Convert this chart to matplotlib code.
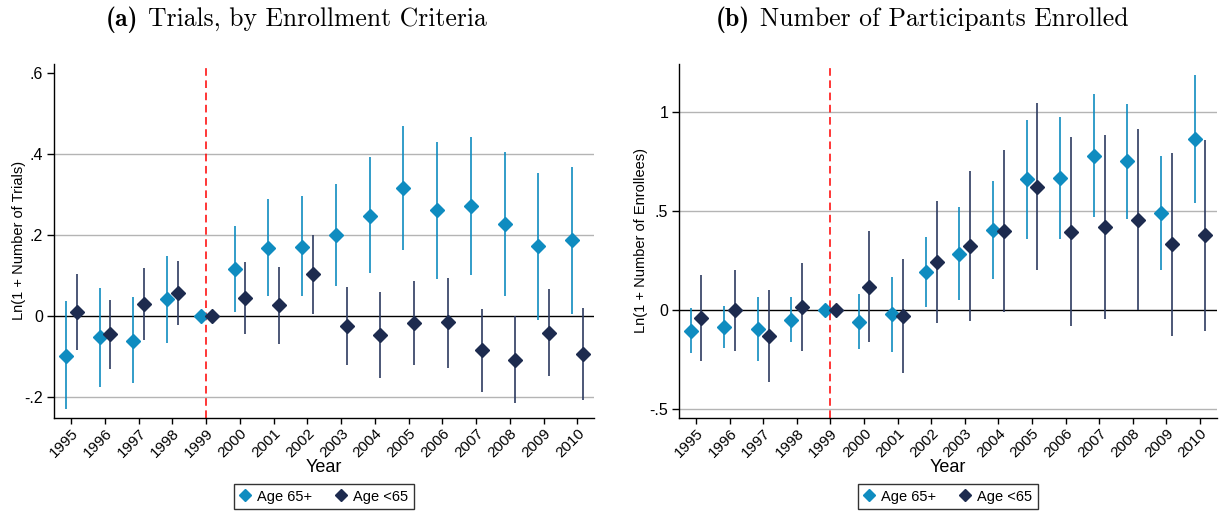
import matplotlib
matplotlib.use("Agg")
import matplotlib.pyplot as plt
import numpy as np
from matplotlib.lines import Line2D
from matplotlib.offsetbox import TextArea, HPacker, AnnotationBbox

plt.rcParams['font.family'] = ['Liberation Sans', 'DejaVu Sans']

years = list(range(1995, 2011))
year_labels = [str(y) for y in years]

# Panel (a): Ln(1 + Number of Trials)
trials_65p = [-0.099, -0.054, -0.062, 0.040, 0.0, 0.115, 0.168, 0.170, 0.199, 0.247, 0.316, 0.260, 0.270, 0.227, 0.171, 0.186]
trials_65p_lo = [-0.231, -0.175, -0.167, -0.068, 0.0, 0.010, 0.049, 0.049, 0.072, 0.104, 0.163, 0.091, 0.100, 0.049, -0.011, 0.005]
trials_65p_hi = [0.035, 0.068, 0.047, 0.147, 0.0, 0.220, 0.288, 0.294, 0.325, 0.391, 0.468, 0.429, 0.440, 0.404, 0.352, 0.367]
trials_u65 = [0.008, -0.046, 0.029, 0.057, 0.0, 0.043, 0.025, 0.102, -0.025, -0.049, -0.019, -0.017, -0.086, -0.109, -0.042, -0.095]
trials_u65_lo = [-0.086, -0.131, -0.060, -0.023, 0.0, -0.045, -0.070, 0.004, -0.121, -0.155, -0.123, -0.130, -0.189, -0.215, -0.148, -0.208]
trials_u65_hi = [0.103, 0.039, 0.117, 0.135, 0.0, 0.133, 0.119, 0.199, 0.071, 0.058, 0.086, 0.094, 0.017, -0.002, 0.065, 0.018]

# Panel (b): Ln(1 + Number of Enrollees)
enroll_65p = [-0.103, -0.086, -0.094, -0.047, 0.0, -0.057, -0.020, 0.192, 0.284, 0.406, 0.663, 0.670, 0.779, 0.752, 0.491, 0.865]
enroll_65p_lo = [-0.217, -0.190, -0.256, -0.162, 0.0, -0.195, -0.209, 0.015, 0.052, 0.158, 0.362, 0.362, 0.470, 0.461, 0.204, 0.542]
enroll_65p_hi = [0.010, 0.020, 0.067, 0.067, 0.0, 0.081, 0.167, 0.369, 0.520, 0.651, 0.963, 0.976, 1.091, 1.044, 0.779, 1.188]
enroll_u65 = [-0.039, 0.000, -0.131, 0.019, 0.0, 0.119, -0.029, 0.242, 0.326, 0.401, 0.624, 0.397, 0.422, 0.458, 0.333, 0.379]
enroll_u65_lo = [-0.258, -0.204, -0.362, -0.204, 0.0, -0.160, -0.315, -0.066, -0.052, -0.010, 0.205, -0.081, -0.042, 0.001, -0.128, -0.103]
enroll_u65_hi = [0.177, 0.204, 0.103, 0.241, 0.0, 0.399, 0.258, 0.552, 0.704, 0.810, 1.047, 0.874, 0.885, 0.916, 0.793, 0.862]

ticks_a = [-0.2, 0, 0.2, 0.4, 0.6]
ticklabels_a = ['-.2', '0', '.2', '.4', '.6']
grid_a = [-0.2, 0.2, 0.4]
ticks_b = [-0.5, 0, 0.5, 1]
ticklabels_b = ['-.5', '0', '.5', '1']
grid_b = [-0.5, 0.5, 1]

series_names = ['Age 65+', 'Age <65']
LIGHT = '#0f8cc0'
DARK = '#1d2b4f'
DARK_CI = '#2e3b60'
OFF = 0.16

fig = plt.figure(figsize=(12.25, 5.13), dpi=100)
W, H = 1225, 513
ax1 = fig.add_axes([54.3 / W, (H - 417.7) / H, 540 / W, 353.7 / H])
ax2 = fig.add_axes([679.3 / W, (H - 417.7) / H, 537.4 / W, 353.7 / H])

def draw(ax, v1, l1, h1, v2, l2, h2, ylim, ticks, tlabels, grid, ylabel, ylab_x, leg_x):
    x = np.array(years, dtype=float)
    for g in grid:
        ax.axhline(g, color='#b4b4b4', lw=1.0, zorder=0)
    ax.axhline(0, color='black', lw=1.0, zorder=1)
    ax.axvline(1999, color='#ff0000', lw=1.1, ls=(0, (5, 3)), zorder=1.5)
    ax.vlines(x - OFF, l1, h1, color=LIGHT, lw=1.2, zorder=2)
    ax.vlines(x + OFF, l2, h2, color=DARK_CI, lw=1.2, zorder=2)
    ax.plot(x - OFF, v1, ls='none', marker='D', ms=7, color=LIGHT, mec=LIGHT, zorder=3)
    ax.plot(x + OFF, v2, ls='none', marker='D', ms=7, color=DARK, mec=DARK, zorder=3)
    ax.set_xlim(1994.5, 2010.5)
    ax.set_ylim(*ylim)
    ax.set_yticks(ticks)
    ax.set_yticklabels(tlabels, fontsize=11.5)
    ax.set_xticks(years)
    ax.set_xticklabels(year_labels, rotation=45, ha='right', rotation_mode='anchor', fontsize=11)
    for s in ['top', 'right']:
        ax.spines[s].set_visible(False)
    for s in ['left', 'bottom']:
        ax.spines[s].set_linewidth(1.0)
    ax.tick_params(axis='y', direction='out', length=5, width=1.0, colors='black', pad=3)
    ax.tick_params(axis='x', direction='out', length=4, width=1.0, colors='black', pad=2)
    ax.set_xlabel('Year', fontsize=13)
    ax.xaxis.set_label_coords(0.5, -0.118)
    ax.set_ylabel(ylabel, fontsize=10.5)
    ax.yaxis.set_label_coords(ylab_x, 0.5)
    handles = [Line2D([], [], ls='none', marker='D', ms=6, color=LIGHT),
               Line2D([], [], ls='none', marker='D', ms=6, color=DARK)]
    leg = ax.legend(handles, series_names, loc='center',
                    bbox_to_anchor=(leg_x, 16.5 / H), bbox_transform=fig.transFigure,
                    ncol=2, frameon=True, fancybox=False, edgecolor='black',
                    fontsize=10.5, handlelength=0.7, handletextpad=0.5, columnspacing=1.6,
                    borderpad=0.4)
    leg.get_frame().set_linewidth(1.0)

draw(ax1, trials_65p, trials_65p_lo, trials_65p_hi, trials_u65, trials_u65_lo, trials_u65_hi,
     (-0.252, 0.621), ticks_a, ticklabels_a, grid_a, 'Ln(1 + Number of Trials)', -0.053, 324 / W)
draw(ax2, enroll_65p, enroll_65p_lo, enroll_65p_hi, enroll_u65, enroll_u65_lo, enroll_u65_hi,
     (-0.542, 1.244), ticks_b, ticklabels_b, grid_b, 'Ln(1 + Number of Enrollees)', -0.058, 948 / W)

def title(tag, text, xc):
    box = HPacker(children=[TextArea(tag, textprops=dict(family='cmb10', size=18.5)),
                            TextArea(text, textprops=dict(family='cmr10', size=18.5))],
                  sep=7, pad=0, align='baseline')
    ab = AnnotationBbox(box, (xc, 1 - 20 / H), xycoords='figure fraction',
                        box_alignment=(0.5, 0.5), frameon=False, pad=0)
    fig.add_artist(ab)

title('(a)', 'Trials, by Enrollment Criteria', 296 / W)
title('(b)', 'Number of Participants Enrolled', 922 / W)

fig.savefig('out.png', dpi=100)
